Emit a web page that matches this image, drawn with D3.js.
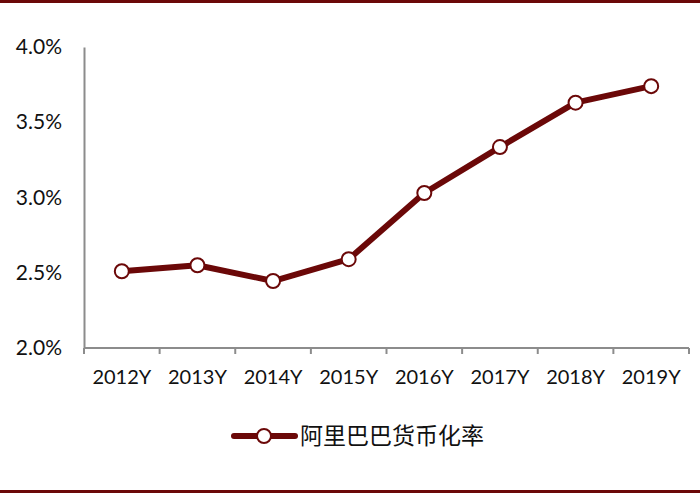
<!DOCTYPE html>
<html lang="zh">
<head>
<meta charset="UTF-8">
<script src="https://d3js.org/d3.v7.min.js"></script>
<style>
  body { margin: 0; background: #fff; }
  svg { display: block; }
</style>
</head>
<body>
<svg width="700" height="495"></svg>
<script>
const years = ["2012Y", "2013Y", "2014Y", "2015Y", "2016Y", "2017Y", "2018Y", "2019Y"];
const rate = [2.51, 2.55, 2.445, 2.59, 3.03, 3.335, 3.63, 3.74];
const yTicks = [2.0, 2.5, 3.0, 3.5, 4.0];
const seriesName = "阿里巴巴货币化率";

const svg = d3.select("svg");
const dark = "#6b0808";
const axisColor = "#8c8c8c";
const labelFont = "Lato, 'Noto Sans', sans-serif";

// frame lines top and bottom
svg.append("rect").attr("x", 0).attr("y", 0).attr("width", 700).attr("height", 3).attr("fill", dark);
svg.append("rect").attr("x", 0).attr("y", 490).attr("width", 700).attr("height", 3).attr("fill", dark);

const x = d3.scaleBand().domain(years).range([84, 689]);
const y = d3.scaleLinear().domain([2.0, 4.0]).range([348, 47]);

// y axis
const yAxis = svg.append("g")
    .attr("transform", "translate(84,0)")
    .call(d3.axisLeft(y).tickValues(yTicks).tickSize(0).tickPadding(22)
        .tickFormat(d => d.toFixed(1) + "%"));
yAxis.select(".domain").attr("stroke", axisColor).attr("stroke-width", 2);
yAxis.selectAll("text").attr("font-family", labelFont).attr("font-size", 21).attr("fill", "#111");

// x axis
const xAxis = svg.append("g")
    .attr("transform", "translate(0,348)")
    .call(d3.axisBottom(x).tickSize(0).tickPadding(22));
xAxis.select(".domain").remove();
xAxis.append("line").attr("x1", 84).attr("x2", 689).attr("y1", 0).attr("y2", 0)
    .attr("stroke", axisColor).attr("stroke-width", 2);
const edges = years.map(d => x(d)).concat([x.range()[1]]);
xAxis.selectAll(".edge").data(edges).enter().append("line")
    .attr("class", "edge")
    .attr("x1", d => d).attr("x2", d => d).attr("y1", 0).attr("y2", 6)
    .attr("stroke", axisColor).attr("stroke-width", 2);
xAxis.selectAll(".tick text").attr("font-family", labelFont).attr("font-size", 20).attr("fill", "#111");

// line
const cx = d => x(d) + x.bandwidth() / 2;
const line = d3.line().x((d, i) => cx(years[i])).y(d => y(d));
svg.append("path").datum(rate)
    .attr("d", line).attr("fill", "none")
    .attr("stroke", dark).attr("stroke-width", 6).attr("stroke-linejoin", "round");

svg.selectAll(".pt").data(rate).enter().append("circle")
    .attr("class", "pt")
    .attr("cx", (d, i) => cx(years[i])).attr("cy", d => y(d)).attr("r", 7)
    .attr("fill", "#fff").attr("stroke", dark).attr("stroke-width", 2);

// legend
const lg = svg.append("g").attr("transform", "translate(232,436)");
lg.append("line").attr("x1", 2).attr("x2", 63).attr("y1", 0).attr("y2", 0)
    .attr("stroke", dark).attr("stroke-width", 6).attr("stroke-linecap", "round");
lg.append("circle").attr("cx", 32).attr("cy", 0).attr("r", 7)
    .attr("fill", "#fff").attr("stroke", dark).attr("stroke-width", 2);
lg.append("text").attr("x", 68).attr("y", 0).attr("dy", "0.35em")
    .attr("font-family", "'Noto Sans CJK SC', sans-serif").attr("font-size", 23)
    .attr("fill", "#111").text(seriesName);
</script>
</body>
</html>
